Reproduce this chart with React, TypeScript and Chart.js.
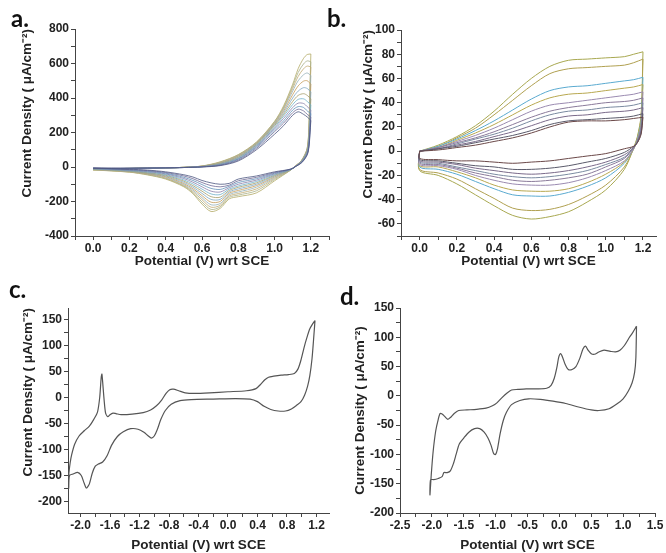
import React, { useEffect, useRef } from "react";
import { Chart, registerables } from "chart.js";
Chart.register(...registerables);

// ---------- Panel a (12 scans) ----------
const A_FWD_X = [0, 0.2, 0.4, 0.5, 0.6, 0.7, 0.8, 0.9, 1.0, 1.05, 1.1, 1.13, 1.16, 1.18, 1.2];
const A_FWD_Y = [
  [-6, -7, -5, -3, 0, 8, 35, 100, 190, 240, 300, 320, 305, 290, 270],
  [-7, -7, -5, -3, 1, 10, 40, 108, 205, 255, 315, 335, 325, 305, 290],
  [-8, -8, -5, -3, 1, 12, 45, 115, 215, 268, 330, 350, 345, 325, 310],
  [-9, -8, -5, -3, 2, 14, 48, 120, 225, 282, 345, 370, 368, 350, 330],
  [-10, -8, -5, -3, 2, 16, 52, 125, 232, 295, 362, 392, 395, 380, 360],
  [-11, -8, -5, -2, 3, 18, 55, 128, 240, 305, 380, 415, 425, 415, 395],
  [-12, -8, -5, -2, 3, 20, 58, 132, 245, 315, 400, 440, 460, 455, 435],
  [-13, -8, -5, -2, 4, 22, 62, 135, 250, 325, 420, 470, 498, 500, 480],
  [-14, -8, -5, -2, 4, 24, 65, 138, 255, 335, 440, 500, 535, 545, 530],
  [-15, -9, -5, -2, 5, 26, 68, 140, 258, 342, 455, 525, 570, 585, 580],
  [-16, -9, -5, -2, 5, 28, 70, 142, 262, 348, 468, 548, 598, 615, 610],
  [-17, -9, -5, -2, 6, 30, 72, 145, 265, 355, 480, 570, 630, 652, 655],
];
const A_REV_X = [1.2, 1.195, 1.19, 1.18, 1.15, 1.12, 1.09, 1.0, 0.9, 0.8, 0.75, 0.7, 0.65, 0.6, 0.55, 0.5, 0.4, 0.3, 0.2, 0.0];
const A_REV_Y = [
  [270, 190, 120, 70, 25, 5, -12, -28, -52, -70, -95, -100, -92, -78, -58, -45, -28, -18, -13, -6],
  [290, 205, 128, 74, 27, 6, -12, -32, -60, -80, -105, -115, -108, -90, -68, -52, -32, -21, -15, -7],
  [310, 220, 135, 78, 29, 6, -13, -36, -68, -90, -112, -130, -124, -102, -78, -60, -36, -24, -17, -8],
  [330, 235, 145, 82, 31, 7, -13, -40, -76, -100, -120, -145, -140, -115, -88, -67, -40, -27, -19, -9],
  [360, 255, 155, 86, 33, 7, -14, -44, -84, -110, -128, -160, -156, -128, -98, -75, -44, -30, -21, -10],
  [395, 280, 170, 90, 35, 8, -14, -48, -92, -118, -136, -175, -172, -140, -108, -82, -48, -33, -22, -11],
  [435, 305, 185, 94, 36, 8, -15, -52, -100, -127, -144, -188, -188, -153, -117, -89, -52, -35, -24, -12],
  [480, 335, 200, 98, 37, 9, -15, -57, -108, -136, -152, -200, -204, -166, -126, -96, -56, -38, -25, -13],
  [530, 370, 215, 102, 38, 9, -16, -62, -117, -145, -160, -212, -219, -178, -134, -102, -60, -40, -26, -14],
  [580, 405, 232, 106, 39, 10, -16, -67, -127, -154, -168, -222, -233, -190, -142, -107, -64, -42, -28, -15],
  [610, 430, 245, 108, 40, 10, -17, -73, -138, -163, -176, -231, -246, -203, -149, -111, -67, -44, -29, -16],
  [655, 460, 260, 110, 40, 10, -17, -80, -150, -172, -185, -240, -258, -215, -155, -115, -70, -46, -30, -17],
];
const A_COLORS = ["#4b5580", "#6f6a96", "#5f8fb8", "#8a7fa8", "#6fb0c8", "#a59c68", "#7ea6c0", "#c49a58", "#94b0b8", "#c0aa70", "#a8b088", "#b3aa64"];
const A_X_LABELS = [0, 0.2, 0.4, 0.6, 0.8, 1.0, 1.2];
const A_Y_LABELS = [-400, -200, 0, 200, 400, 600, 800];

// ---------- Panel b (10 scans) ----------
const B_FWD_X = [0, 0.1, 0.2, 0.3, 0.4, 0.5, 0.6, 0.7, 0.8, 0.9, 1.0, 1.1, 1.15, 1.2];
const B_FWD_Y = [
  [0, 1, 3, 5, 8, 11, 15, 20, 24, 25, 25, 26, 27, 28],
  [0, 2, 4, 7, 10, 13, 17, 22, 25, 26, 27, 28, 29, 31],
  [0, 2, 5, 8, 12, 16, 21, 26, 29, 30, 32, 33, 34, 36],
  [0, 2, 6, 10, 14, 19, 25, 30, 33, 34, 36, 37, 38, 40],
  [0, 3, 7, 11, 16, 22, 28, 33, 36, 38, 40, 41, 42, 44],
  [0, 3, 8, 13, 19, 26, 33, 38, 40, 42, 44, 46, 47, 49],
  [0, 3, 9, 15, 22, 30, 38, 44, 47, 48, 50, 52, 53, 55],
  [0, 4, 10, 17, 25, 34, 43, 50, 53, 54, 56, 58, 59, 61],
  [0, 4, 11, 19, 30, 42, 54, 64, 68, 69, 70, 71, 73, 76],
  [0, 5, 12, 21, 33, 47, 60, 70, 75, 76, 77, 78, 80, 82],
];
const B_REV_X = [1.2, 1.19, 1.17, 1.15, 1.1, 1.0, 0.9, 0.8, 0.7, 0.6, 0.5, 0.4, 0.3, 0.2, 0.1, 0.0];
const B_REV_Y = [
  [28, 14, 7, 4, 2, -2, -4, -6, -8, -9, -10, -9, -8, -8, -7, -6],
  [31, 15, 7, 4, -1, -6, -9, -12, -14, -15, -15, -13, -12, -10, -8, -7],
  [36, 17, 8, 3, -3, -9, -13, -16, -18, -19, -18, -16, -14, -11, -9, -8],
  [40, 18, 8, 3, -5, -11, -16, -19, -21, -22, -21, -19, -16, -13, -10, -9],
  [44, 20, 8, 3, -6, -13, -19, -22, -24, -25, -24, -21, -18, -14, -11, -10],
  [49, 21, 9, 2, -8, -16, -22, -26, -28, -28, -27, -24, -20, -15, -12, -11],
  [55, 23, 9, 2, -9, -19, -26, -31, -33, -33, -32, -28, -22, -17, -13, -12],
  [61, 25, 10, 2, -10, -22, -29, -34, -37, -37, -36, -31, -25, -19, -15, -13],
  [76, 28, 11, 2, -13, -28, -37, -44, -48, -49, -47, -39, -31, -23, -18, -15],
  [82, 30, 12, 3, -15, -32, -42, -50, -54, -56, -53, -45, -36, -27, -20, -16],
];
const B_COLORS = ["#6a4848", "#5a5a6a", "#7a6a8a", "#7a8aa0", "#8a7a9a", "#9a8ab0", "#b8a850", "#5aaad0", "#b0a050", "#a8a850"];
const B_X_LABELS = [0, 0.2, 0.4, 0.6, 0.8, 1.0, 1.2];
const B_Y_LABELS = [-60, -40, -20, 0, 20, 40, 60, 80, 100];

// ---------- Panel c ----------
const C_X = [1.18, 1.15, 1.11, 1.07, 1.03, 0.99, 0.95, 0.9, 0.82, 0.72, 0.62, 0.55, 0.5, 0.44, 0.38, 0.25, 0.0, -0.25, -0.45, -0.58, -0.67, -0.74, -0.79, -0.84, -0.9, -0.97, -1.05, -1.15, -1.3, -1.45, -1.52, -1.56, -1.6, -1.63, -1.66, -1.68, -1.7, -1.71, -1.72, -1.74, -1.77, -1.82, -1.88, -1.95, -2.02, -2.08, -2.12, -2.14, -2.16, -2.16, -2.15, -2.1, -2.04, -1.99, -1.95, -1.92, -1.88, -1.84, -1.8, -1.76, -1.7, -1.64, -1.58, -1.5, -1.42, -1.32, -1.22, -1.14, -1.08, -1.04, -1.0, -0.96, -0.91, -0.85, -0.77, -0.65, -0.5, -0.2, 0.1, 0.3, 0.4, 0.49, 0.58, 0.68, 0.78, 0.86, 0.93, 0.99, 1.04, 1.08, 1.11, 1.14, 1.16, 1.18];
const C_Y = [148, 142, 132, 115, 95, 72, 55, 46, 44, 43, 41, 39, 34, 25, 17, 13, 11, 9, 8, 9, 13, 16, 15, 8, -5, -16, -24, -29, -32, -33, -31, -30, -33, -37, -30, -5, 30, 45, 38, 0, -28, -42, -55, -64, -74, -90, -110, -125, -150, -175, -150, -147, -144, -150, -165, -174, -166, -145, -132, -128, -124, -112, -92, -75, -66, -60, -61, -67, -74, -78, -74, -62, -42, -25, -13, -6, -4, -3, -2, -3, -8, -17, -23, -26, -26, -22, -15, -8, 5, 22, 42, 75, 110, 148];
const C_X_LABELS = [-2.0, -1.6, -1.2, -0.8, -0.4, 0.0, 0.4, 0.8, 1.2];
const C_Y_LABELS = [-200, -150, -100, -50, 0, 50, 100, 150];

// ---------- Panel d ----------
const D_X = [1.21, 1.15, 1.1, 1.02, 0.95, 0.88, 0.8, 0.7, 0.62, 0.55, 0.5, 0.45, 0.41, 0.37, 0.32, 0.26, 0.2, 0.14, 0.09, 0.05, 0.02, -0.01, -0.04, -0.08, -0.13, -0.2, -0.35, -0.52, -0.65, -0.75, -0.82, -0.9, -0.98, -1.05, -1.15, -1.3, -1.45, -1.58, -1.65, -1.7, -1.75, -1.8, -1.84, -1.87, -1.9, -1.94, -1.98, -2.01, -2.03, -2.02, -1.97, -1.9, -1.84, -1.81, -1.76, -1.71, -1.66, -1.62, -1.57, -1.5, -1.42, -1.33, -1.25, -1.18, -1.12, -1.07, -1.03, -1.0, -0.97, -0.93, -0.88, -0.83, -0.75, -0.62, -0.48, -0.3, -0.1, 0.1, 0.3, 0.5, 0.62, 0.78, 0.9, 1.0, 1.08, 1.14, 1.18, 1.2, 1.21];
const D_Y = [119, 108, 100, 86, 78, 75, 76, 78, 75, 71, 72, 78, 85, 80, 64, 50, 45, 45, 54, 66, 72, 66, 48, 30, 18, 13, 12, 12, 11, 10, 5, -3, -12, -17, -21, -23, -24, -25, -30, -36, -40, -35, -31, -30, -40, -60, -95, -135, -169, -143, -143, -141, -138, -131, -131, -128, -115, -100, -82, -72, -62, -56, -56, -62, -72, -85, -99, -100, -90, -65, -42, -28, -15, -8, -5, -6, -9, -13, -19, -24, -25, -22, -14, -5, 8, 22, 40, 65, 119];
const D_X_LABELS = [-2.5, -2.0, -1.5, -1.0, -0.5, 0.0, 0.5, 1.0, 1.5];
const D_Y_LABELS = [-200, -150, -100, -50, 0, 50, 100, 150];

const FONT = "'Liberation Sans', Arial, sans-serif";
const X_TITLE = "Potential (V) wrt SCE";
const Y_TITLE = "Current Density ( \u03bcA/cm\u207b\u00b2)";

type Pt = { x: number; y: number };

function loopPoints(fx: number[], fy: number[], rx: number[], ry: number[]): Pt[] {
  const pts: Pt[] = fx.map((x, i) => ({ x, y: fy[i] }));
  rx.forEach((x, i) => pts.push({ x, y: ry[i] }));
  pts.push({ x: pts[0].x, y: pts[0].y });
  return pts;
}

function pathPoints(xs: number[], ys: number[]): Pt[] {
  return xs.map((x, i) => ({ x, y: ys[i] }));
}

function tickList(labels: number[], min: number, max: number): number[] {
  const half = (labels[1] - labels[0]) / 2;
  const out: number[] = [];
  for (let v = labels[0]; v >= min - 1e-9; v -= half) out.push(Math.round(v * 1e6) / 1e6);
  for (let v = labels[0] + half; v <= max + 1e-9; v += half) out.push(Math.round(v * 1e6) / 1e6);
  return out.sort((a, b) => a - b);
}

interface PanelCfg {
  left: number; top: number; width: number; height: number;
  yWidth: number; xHeight: number; padTop: number; padRight: number;
  xMin: number; xMax: number; yMin: number; yMax: number;
  xLabels: number[]; yLabels: number[]; xDigits: number;
  yTitlePad: number; xTitlePad: number; yTitleAlign: string;
  datasets: any[];
}

function Panel({ cfg }: { cfg: PanelCfg }) {
  const ref = useRef<HTMLCanvasElement | null>(null);
  useEffect(() => {
    if (!ref.current) return;
    const xTicks = tickList(cfg.xLabels, cfg.xMin, cfg.xMax);
    const yTicks = tickList(cfg.yLabels, cfg.yMin, cfg.yMax);
    const isLab = (arr: number[], v: number) => arr.some((l) => Math.abs(l - v) < 1e-6);
    const tickFont = { family: FONT, size: 12, weight: "bold" as const };
    const titleFont = { family: FONT, size: 13.5, weight: "bold" as const, lineHeight: 1.2 };
    const grid = { display: true, drawOnChartArea: false, drawTicks: true, tickLength: 4, color: "#444", lineWidth: 1 };
    const border = { display: true, color: "#444", width: 1 };
    const chart = new Chart(ref.current, {
      type: "scatter",
      data: { datasets: cfg.datasets },
      options: {
        responsive: false,
        animation: false,
        maintainAspectRatio: false,
        layout: { padding: { top: cfg.padTop, right: cfg.padRight, left: 0, bottom: 0 } },
        plugins: { legend: { display: false }, tooltip: { enabled: false }, title: { display: false } },
        elements: { point: { radius: 0 } },
        scales: {
          x: {
            type: "linear",
            min: cfg.xMin,
            max: cfg.xMax,
            afterBuildTicks: (s: any) => { s.ticks = xTicks.map((v) => ({ value: v })); },
            afterFit: (s: any) => { s.height = cfg.xHeight; },
            ticks: {
              autoSkip: false, maxRotation: 0, minRotation: 0, padding: 1, color: "#222", font: tickFont,
              callback: (v: any) => (isLab(cfg.xLabels, Number(v)) ? Number(v).toFixed(cfg.xDigits) : ""),
            },
            grid, border,
            title: { display: true, text: X_TITLE, color: "#222", font: titleFont, padding: { top: 0, bottom: cfg.xTitlePad } },
          },
          y: {
            type: "linear",
            min: cfg.yMin,
            max: cfg.yMax,
            afterBuildTicks: (s: any) => { s.ticks = yTicks.map((v) => ({ value: v })); },
            afterFit: (s: any) => { s.width = cfg.yWidth; },
            ticks: {
              autoSkip: false, padding: 2, color: "#222", font: tickFont,
              callback: (v: any) => (isLab(cfg.yLabels, Number(v)) ? String(Math.round(Number(v))) : ""),
            },
            grid, border,
            title: { display: true, text: Y_TITLE, align: cfg.yTitleAlign, color: "#222", font: titleFont, padding: { top: cfg.yTitlePad, bottom: 0 } },
          },
        },
      } as any,
    });
    return () => chart.destroy();
  }, [cfg]);
  return (
    <canvas
      ref={ref}
      width={cfg.width}
      height={cfg.height}
      style={{ position: "absolute", left: cfg.left, top: cfg.top, width: cfg.width, height: cfg.height }}
    />
  );
}

function lineDs(data: Pt[], color: string, width: number, tension: number) {
  return { data, showLine: true, borderColor: color, borderWidth: width, pointRadius: 0, tension, fill: false };
}

const PANEL_A: PanelCfg = {
  left: 0, top: 0, width: 333, height: 276,
  yWidth: 75, xHeight: 40, padTop: 29, padRight: 4,
  xMin: -0.1, xMax: 1.3, yMin: -400, yMax: 800,
  xLabels: A_X_LABELS, yLabels: A_Y_LABELS, xDigits: 1,
  yTitlePad: 19, xTitlePad: 7, yTitleAlign: "end",
  datasets: A_FWD_Y.map((fy, i) => lineDs(loopPoints(A_FWD_X, fy, A_REV_X, A_REV_Y[i]), A_COLORS[i], 0.8, 0.3)),
};

const PANEL_B: PanelCfg = {
  left: 333, top: 0, width: 333, height: 276,
  yWidth: 68, xHeight: 40, padTop: 30, padRight: 10,
  xMin: -0.1, xMax: 1.27, yMin: -70, yMax: 100,
  xLabels: B_X_LABELS, yLabels: B_Y_LABELS, xDigits: 1,
  yTitlePad: 27, xTitlePad: 7, yTitleAlign: "end",
  datasets: B_FWD_Y.map((fy, i) => lineDs(loopPoints(B_FWD_X, fy, B_REV_X, B_REV_Y[i]), B_COLORS[i], 1, 0.3)),
};

const PANEL_C: PanelCfg = {
  left: 0, top: 276, width: 333, height: 277,
  yWidth: 68, xHeight: 40, padTop: 32, padRight: 4,
  xMin: -2.17, xMax: 1.37, yMin: -222, yMax: 172,
  xLabels: C_X_LABELS, yLabels: C_Y_LABELS, xDigits: 1,
  yTitlePad: 20, xTitlePad: 0, yTitleAlign: "end",
  datasets: [lineDs(pathPoints(C_X, C_Y), "#555", 1.2, 0.25)],
};

const PANEL_D: PanelCfg = {
  left: 333, top: 276, width: 333, height: 277,
  yWidth: 67, xHeight: 40, padTop: 32, padRight: 11,
  xMin: -2.5, xMax: 1.5, yMin: -200, yMax: 150,
  xLabels: D_X_LABELS, yLabels: D_Y_LABELS, xDigits: 1,
  yTitlePad: 19, xTitlePad: 0, yTitleAlign: "center",
  datasets: [lineDs(pathPoints(D_X, D_Y), "#555", 1.2, 0.25)],
};

const LABEL_STYLE: React.CSSProperties = {
  position: "absolute",
  fontFamily: "Lato, 'Open Sans', sans-serif",
  fontWeight: 700,
  fontSize: 24,
  lineHeight: "24px",
  color: "#111",
};

export default function App() {
  return (
    <div style={{ position: "absolute", left: 0, top: 0, width: 666, height: 553, background: "#fff", overflow: "hidden" }}>
      <Panel cfg={PANEL_A} />
      <Panel cfg={PANEL_B} />
      <Panel cfg={PANEL_C} />
      <Panel cfg={PANEL_D} />
      <div style={{ ...LABEL_STYLE, left: 11, top: 6 }}>a.</div>
      <div style={{ ...LABEL_STYLE, left: 327, top: 6 }}>b.</div>
      <div style={{ ...LABEL_STYLE, left: 9, top: 277 }}>c.</div>
      <div style={{ ...LABEL_STYLE, left: 340, top: 284 }}>d.</div>
    </div>
  );
}
